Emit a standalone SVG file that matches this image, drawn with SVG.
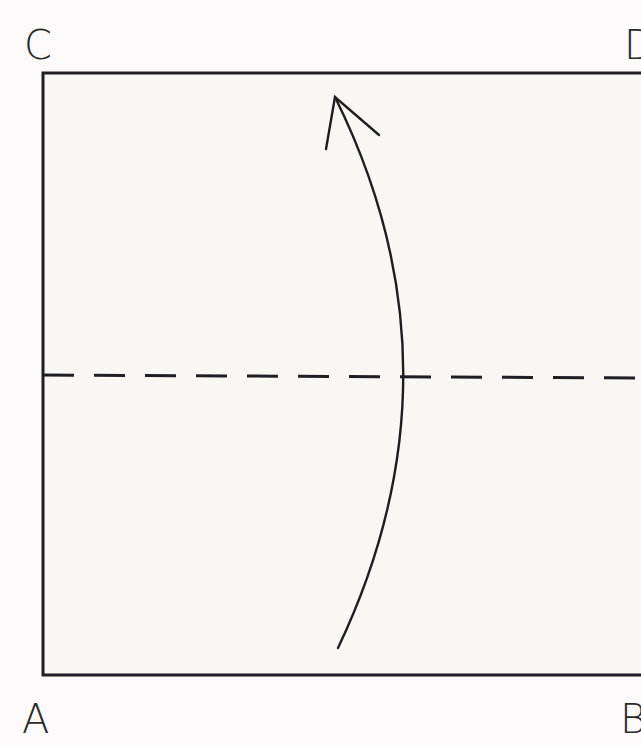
<svg xmlns="http://www.w3.org/2000/svg" width="641" height="745" viewBox="0 0 641 745">
<style>
.lbl{font-family:"DejaVu Sans","Liberation Sans",sans-serif;font-size:40px;font-weight:200;fill:#2a2a2a}
.edge{stroke:#1e1e24;stroke-width:3;fill:none}
.fold{stroke:#1e1e24;stroke-width:3;fill:none;stroke-dasharray:31 20}
.arrow{stroke:#1e1e1e;stroke-width:2.4;fill:none;stroke-linecap:round}
</style>
<rect width="641" height="745" fill="#fcfafa"/>
<g id="paper">
<rect x="43" y="73" width="610" height="602" fill="#f8f7f4"/>
<path class="edge" d="M653,73 L43,73 L43,675 L653,675"/>
</g>
<g id="fold-line">
<line class="fold" x1="43" y1="375" x2="641" y2="378"/>
</g>
<g id="connectors">
<path class="arrow" d="M338,648 Q470,370 335,97"/>
<path class="arrow" d="M326,149 L335,97 L379,135"/>
</g>
<g id="label-C"><text class="lbl" x="24" y="59">C</text></g>
<g id="label-D"><text class="lbl" x="624" y="59">D</text></g>
<g id="label-A"><text class="lbl" x="22" y="733">A</text></g>
<g id="label-B"><text class="lbl" x="620" y="733">B</text></g>
</svg>
